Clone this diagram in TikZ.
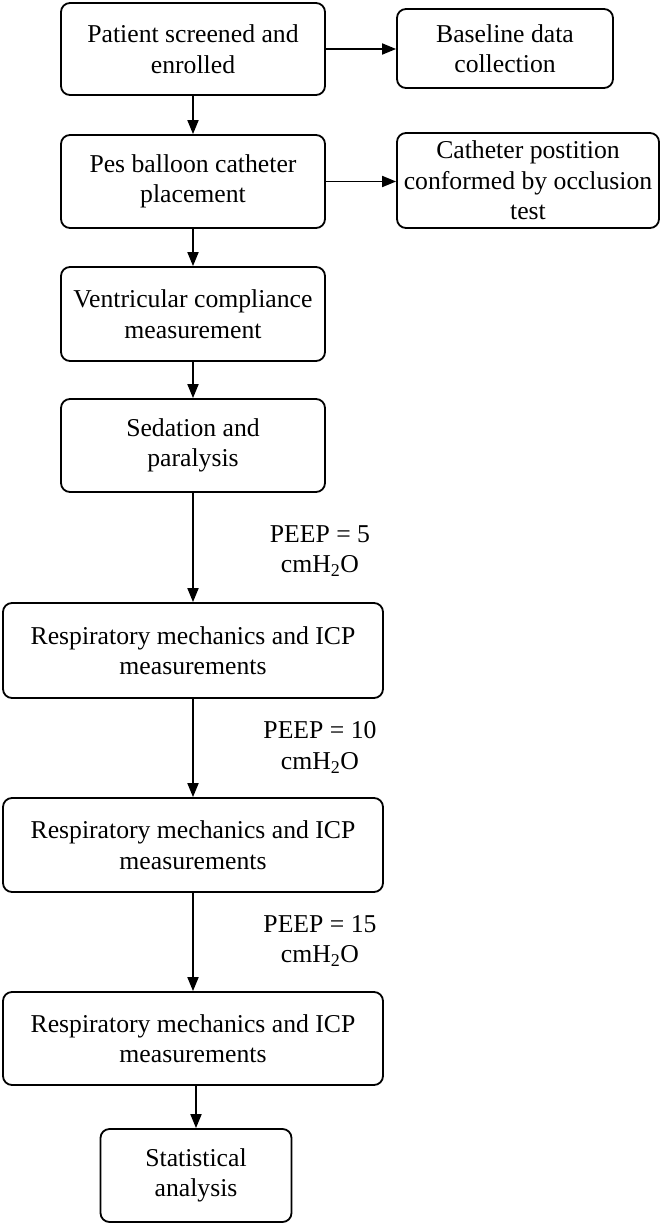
\documentclass[tikz,border=0pt]{standalone}
\usepackage{fontspec}
\setmainfont{Liberation Serif}
\usetikzlibrary{arrows.meta}
\begin{document}
\begin{tikzpicture}[x=1pt,y=-1pt,
  box/.style={draw, line width=1.8pt, rounded corners=9pt, align=center, inner sep=0pt,
    font=\fontsize{25.7}{30.5}\selectfont},
  lbl/.style={align=center, inner sep=0pt, font=\fontsize{25.7}{30.5}\selectfont},
  arr/.style={line width=1.8pt, -{Triangle[length=14pt,width=11pt]}}]
\useasboundingbox (0,0) rectangle (666,1225);
\node[box, minimum width=264pt, minimum height=92pt] (b1) at (193,49) {Patient screened and\\enrolled};
\node[box, minimum width=216pt, minimum height=79pt] (base) at (505,48.5) {Baseline data\\collection};
\node[box, minimum width=264pt, minimum height=93pt] (b2) at (193,181.5) {Pes balloon catheter\\placement};
\node[box, minimum width=262pt, minimum height=95pt] (cat) at (528,180.5) {Catheter postition\\conformed by occlusion\\test};
\node[box, minimum width=264pt, minimum height=94pt] (b3) at (193,314) {Ventricular compliance\\measurement};
\node[box, minimum width=264pt, minimum height=93pt] (b4) at (193,445.5) {Sedation and\\paralysis};
\node[box, minimum width=380pt, minimum height=95pt] (b5) at (193,650.5) {Respiratory mechanics and ICP\\measurements};
\node[box, minimum width=380pt, minimum height=94pt] (b6) at (193,845) {Respiratory mechanics and ICP\\measurements};
\node[box, minimum width=380pt, minimum height=93pt] (b7) at (193,1038.5) {Respiratory mechanics and ICP\\measurements};
\node[box, minimum width=191pt, minimum height=93pt] (b8) at (196,1175.5) {Statistical\\analysis};
\node[lbl] (l5) at (320,551) {PEEP = 5\\cmH\textsubscript{2}O};
\node[lbl] (l10) at (320,747.5) {PEEP = 10\\cmH\textsubscript{2}O};
\node[lbl] (l15) at (320,941) {PEEP = 15\\cmH\textsubscript{2}O};
\draw[arr] (b1.east) -- (b1.east -| base.west);
\draw[arr] (b2.east) -- (b2.east -| cat.west);
\draw[arr] (b1) -- (b2);
\draw[arr] (b2) -- (b3);
\draw[arr] (b3) -- (b4);
\draw[arr] (b4) -- (b5);
\draw[arr] (b5) -- (b6);
\draw[arr] (b6) -- (b7);
\draw[arr] (b7.south -| b8.north) -- (b8.north);
\end{tikzpicture}
\end{document}
